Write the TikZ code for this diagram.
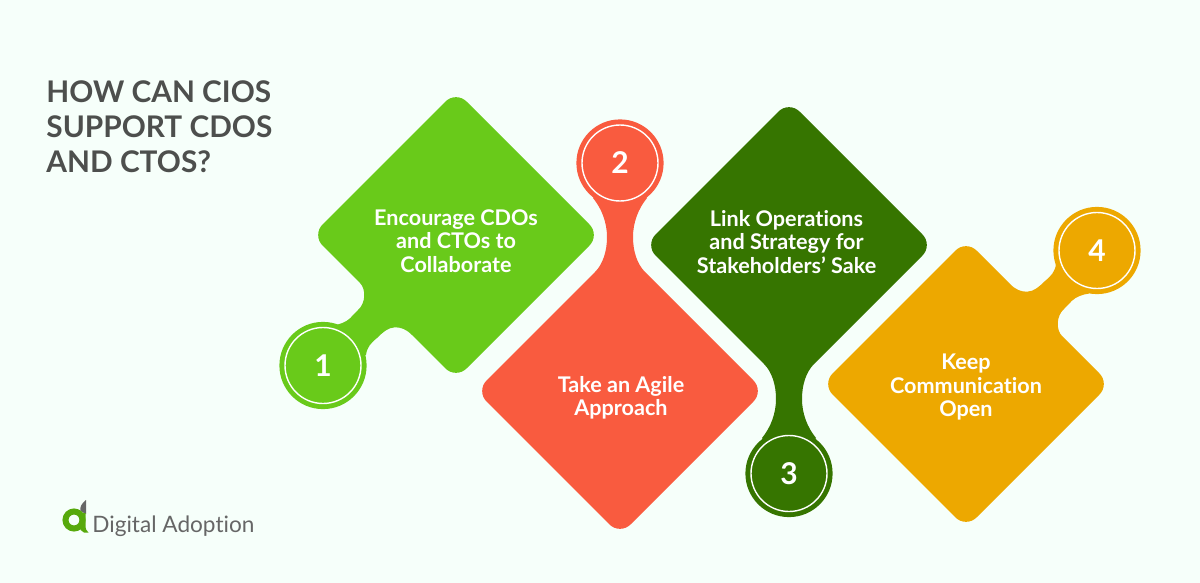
\documentclass[tikz,border=0pt]{standalone}
\usepackage{fontspec}
\setmainfont[Ligatures=NoCommon]{Lato}
\definecolor{pagebg}{HTML}{F6FFFA}
\definecolor{stepgreen}{HTML}{69CA1A}
\definecolor{stepred}{HTML}{F95B3F}
\definecolor{stepdark}{HTML}{367500}
\definecolor{stepamber}{HTML}{EDA800}
\definecolor{titlegrey}{HTML}{4D4F4D}
\definecolor{logogrey}{HTML}{666666}
\definecolor{logogreen}{HTML}{57A90C}
\begin{document}
\begin{tikzpicture}[x=0.5pt,y=-0.5pt]
    \tikzstyle{disc}=[circle,minimum size=43.6pt,inner sep=0pt]
    \tikzstyle{ring}=[circle,minimum size=38pt,inner sep=0pt,draw=white,line width=0.7pt,text=white,font=\bfseries\fontsize{15}{15}\selectfont]
    \tikzstyle{steptext}=[align=center,text=white,font=\bfseries\fontsize{10.8}{11.7}\selectfont]

    \useasboundingbox[fill=pagebg] (0,0) rectangle (1200,583);

    % Title
    \node[anchor=west,align=left,inner sep=0pt,text=titlegrey,font=\bfseries\fontsize{14.9}{17.5}\selectfont] (title) at (46,127)
        {HOW CAN CIOS\\SUPPORT CDOS\\AND CTOS?};

    % Draw the diamonds with a slanted tab
    \foreach \name/\cx/\cy/\ang/\col in {1/456/235/0/stepgreen,4/966/384/180/stepamber}
        \fill[\col,shift={(\cx,\cy)},rotate=\ang] (-96,48) -- (-133.4,10.6)
            .. controls (-139.3,4.7) and (-139.3,-4.7) .. (-133.4,-10.6) -- (-10.6,-133.4)
            .. controls (-4.7,-139.3) and (4.7,-139.3) .. (10.6,-133.4) -- (133.4,-10.6)
            .. controls (139.3,-4.7) and (139.3,4.7) .. (133.4,10.6) -- (10.6,133.4)
            .. controls (4.7,139.3) and (-4.7,139.3) .. (-10.6,133.4) -- (-44,100)
            .. controls (-50,94) and (-55,92.3) .. (-61,92.3)
            .. controls (-68,92.3) and (-74,98) .. (-79,103)
            .. controls (-85,108) and (-89,112) .. (-90,120)
            -- (-125,125) -- (-123,90.5)
            .. controls (-116,89.5) and (-110,87) .. (-106,83.3)
            -- (-98,75)
            .. controls (-90,68) and (-90,54) .. (-96,48) -- cycle;

    % Draw the diamonds with a straight neck
    \foreach \name/\cx/\cy/\ang/\col in {2/620/391/0/stepred,3/789/245/180/stepdark}
        \fill[\col,shift={(\cx,\cy)},rotate=\ang] (-25,-119) -- (-133.4,-10.6)
            .. controls (-139.3,-4.7) and (-139.3,4.7) .. (-133.4,10.6) -- (-10.6,133.4)
            .. controls (-4.7,139.3) and (4.7,139.3) .. (10.6,133.4) -- (133.4,10.6)
            .. controls (139.3,4.7) and (139.3,-4.7) .. (133.4,-10.6) -- (25,-119)
            .. controls (17,-127) and (13,-140) .. (13,-154)
            .. controls (13,-168) and (18,-182) .. (27,-193)
            -- (0,-228) -- (-27,-193)
            .. controls (-18,-182) and (-13,-168) .. (-13,-154)
            .. controls (-13,-140) and (-17,-127) .. (-25,-119) -- cycle;

    % Draw the numbered discs
    \foreach \name/\x/\y/\col in {1/323/365.5/stepgreen,2/620/163/stepred,3/789/473.5/stepdark,4/1097/250.5/stepamber} {
        \node[disc,fill=\col] (D-\name) at (\x,\y) {};
        \node[ring] (N-\name) at (D-\name) {\name};
    }

    % Annotate the diamonds
    \node[steptext] (T-1) at (456,241) {Encourage CDOs\\and CTOs to\\Collaborate};
    \node[steptext] (T-2) at (621,398) {Take an Agile\\Approach};
    \node[steptext] (T-3) at (786.5,242) {Link Operations\\and Strategy for\\Stakeholders' Sake};
    \node[steptext] (T-4) at (966,387) {Keep\\Communication\\Open};

    % Logo
    \fill[logogrey] (86,500) .. controls (82,503) and (79.5,507) .. (80.5,511) -- (86,514) -- cycle;
    \draw[logogreen,line width=3pt] (74,520) circle[radius=8.5];
    \fill[logogreen] (79.5,513) -- (85.5,513) -- (85.5,525) .. controls (85.5,529) and (86.5,531) .. (88.5,532.5) -- (84,532.5) .. controls (81,531.5) and (79.5,529) .. (79.5,526) -- cycle;
    \node[anchor=west,inner sep=0pt,text=logogrey,font=\fontsize{11.3}{12}\selectfont] (logo) at (92,526.5) {Digital Adoption};
\end{tikzpicture}
\end{document}
